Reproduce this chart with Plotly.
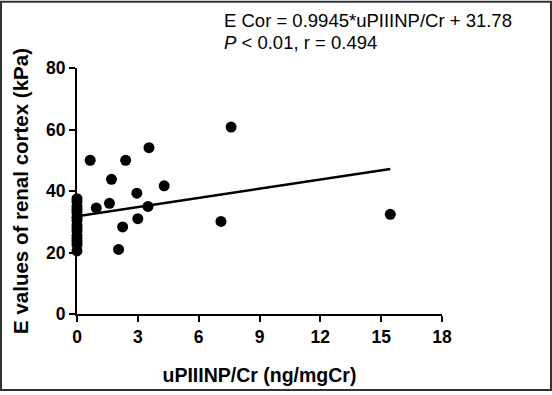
import plotly.graph_objects as go

# Data
x_vals = [0, 0, 0, 0, 0, 0, 0, 0, 0, 0, 0, 0, 0, 0, 0,
          0.65, 0.95, 1.6, 1.7, 2.4, 2.05, 2.25, 2.95, 3.0, 3.55, 3.5, 4.3, 7.1, 7.6, 15.45]
y_vals = [20.5, 22.5, 23.5, 24.5, 25.5, 27, 28, 29, 30.5, 31.5, 33, 34, 35, 36.5, 37.5,
          50, 34.5, 36, 43.8, 50, 21, 28.3, 39.3, 31, 54.1, 35, 41.7, 30.1, 60.8, 32.4]
slope = 0.9945
intercept = 31.78
fit_x = [0, 15.45]
fit_y = [slope * v + intercept for v in fit_x]

x_ticks = [0, 3, 6, 9, 12, 15, 18]
y_ticks = [0, 20, 40, 60, 80]

L, R, T, B = 77, 110, 68, 78
W, H = 552, 395
pw, ph = W - L - R, H - T - B

def px(x):
    return (x - L) / pw

def py(y):
    return (H - B - y) / ph

fig = go.Figure()
fig.add_trace(go.Scatter(x=fit_x, y=fit_y, mode="lines",
                         line=dict(color="black", width=2.5), cliponaxis=False,
                         hoverinfo="skip", showlegend=False))
fig.add_trace(go.Scatter(x=x_vals, y=y_vals, mode="markers",
                         marker=dict(color="black", size=11), cliponaxis=False,
                         showlegend=False))

font = "Liberation Sans, Arial, sans-serif"
axis_common = dict(showline=True, linecolor="black", linewidth=2, ticks="outside",
                   ticklen=6, tickwidth=2, tickcolor="black", showgrid=False,
                   zeroline=False, tickfont=dict(family=font, size=17.5, color="black", weight="bold"))

fig.update_xaxes(range=[0, 18], tickvals=x_ticks, **axis_common,
                 title=dict(text="<b>uPIIINP/Cr (ng/mgCr)</b>", standoff=22,
                            font=dict(family=font, size=19.5, color="black")))
fig.update_yaxes(range=[0, 80], tickvals=y_ticks, **axis_common,
                 title=dict(text="<b>E values of renal cortex (kPa)</b>", standoff=12,
                            font=dict(family=font, size=20.5, color="black")))

fig.add_annotation(x=px(222), y=py(20), xref="paper", yref="paper", xanchor="left",
                   yanchor="middle", showarrow=False,
                   text="E Cor = 0.9945*uPIIINP/Cr + 31.78",
                   font=dict(family=font, size=18.5, color="black"))
fig.add_annotation(x=px(222), y=py(42), xref="paper", yref="paper", xanchor="left",
                   yanchor="middle", showarrow=False,
                   text="<i>P</i> < 0.01, r = 0.494",
                   font=dict(family=font, size=18.5, color="black"))

fig.add_shape(type="rect", xref="paper", yref="paper",
              x0=px(1), x1=px(551), y0=py(394), y1=py(1),
              line=dict(color="#333333", width=2))

fig.update_layout(width=W, height=H, margin=dict(l=L, r=R, t=T, b=B),
                  plot_bgcolor="white", paper_bgcolor="white")

fig.write_html("out.html", config={"displayModeBar": False},
               post_script="document.body.style.margin='0';")
